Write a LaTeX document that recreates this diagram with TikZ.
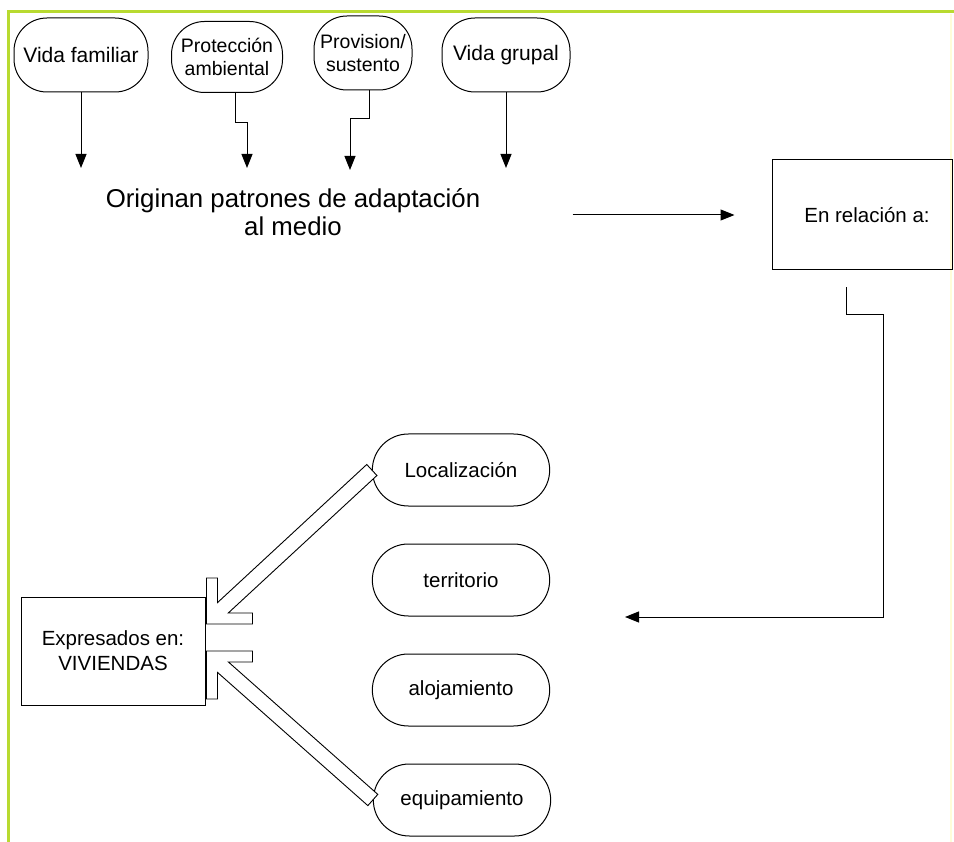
\documentclass[tikz,border=0pt]{standalone}
\usepackage{fontspec}
\setmainfont{Liberation Sans}
\usetikzlibrary{arrows.meta,calc,shapes.misc}
\definecolor{marco}{RGB}{184,218,48}

\begin{document}
\begin{tikzpicture}[x=1pt,y=-1pt,line width=1pt,
  burbuja/.style={draw, rounded corners=33pt, align=center, inner sep=2pt, font=\fontsize{21}{23.5}\selectfont},
  pastilla/.style={draw, rounded rectangle, minimum width=184pt, minimum height=72pt, font=\fontsize{20.5}{23}\selectfont},
  caja/.style={draw, rectangle, align=center, font=\fontsize{20.5}{25}\selectfont},
  flecha/.style={-{Triangle[width=11pt,length=14pt]}},
  bloque/.style={draw, fill=white, line width=0.9pt, line join=miter}]
\useasboundingbox (0,0) rectangle (954,842);
% marco
\draw[marco, line width=3pt] (8,842) -- (8,12) -- (954,12);
\draw[yellow!15, line width=2pt] (951,14) -- (951,842);

% fila de arriba
\node[burbuja, minimum width=134pt, minimum height=74pt] (vf) at (81,55) {Vida familiar};
\node[burbuja, minimum width=111pt, minimum height=71pt, font=\fontsize{19.5}{23}\selectfont] (pa) at (227,57) {Protección\\ambiental};
\node[burbuja, minimum width=98pt, minimum height=74pt, font=\fontsize{19.5}{23}\selectfont] (ps) at (363,53) {Provision/\\sustento};
\node[burbuja, minimum width=128pt, minimum height=74pt] (vg) at (506,55) {Vida grupal};

\node[font=\fontsize{25.8}{28}\selectfont, align=center] (orig) at (293,212) {Originan patrones de adaptación\\al medio};
\node[caja, minimum width=180pt, minimum height=110pt] (rel) at (862,215) {\hspace*{10pt}En relación a:};

\coordinate (t1) at (81,168);
\coordinate (t2) at (247,168);
\coordinate (t3) at (350,170);
\coordinate (t4) at (506,168);
\draw[flecha] (vf.south) -- (t1);
\draw[flecha] ([xshift=8pt]pa.south) -- ++(0,30) -| (t2);
\draw[flecha] ([xshift=6pt]ps.south) -- ++(0,28) -| (t3);
\draw[flecha] (vg.south) -- (t4);
\draw[flecha] ([xshift=-199pt]rel.west) -- ([xshift=-37pt]rel.west);

% abajo
\node[pastilla] (loc) at (461,470) {Localización};
\node[pastilla] (ter) at (461,580) {territorio};
\node[pastilla] (alo) at (461,690) {alojamiento};
\node[pastilla] (eq) at (462,800) {equipamiento};
\node[caja, minimum width=184pt, minimum height=108pt] (viv) at (113,651) {Expresados en:\\VIVIENDAS};

\coordinate (t5) at (625,617);
\draw[flecha] ([xshift=-16pt,yshift=-17pt]rel.south) -- ++(0,27) -- ++(37,0) |- (t5);

% flecha hueca de arriba
\coordinate (T1) at ($(viv.east)+(1,-27)$);
\coordinate (s1) at (loc.west);
\coordinate (h1) at ($(T1)+(14,-14)$);
\coordinate (a1) at ($(T1)+(11,0)$);
\coordinate (a2) at ($(T1)+(11,-46)$);
\coordinate (b1) at ($(T1)+(0,-11)$);
\coordinate (b2) at ($(T1)+(46,-11)$);
\coordinate (u1) at ($(s1)!7.5pt!-90:(h1)$);
\coordinate (u2) at ($(h1)!7.5pt!90:(s1)$);
\coordinate (l1) at ($(s1)!7.5pt!90:(h1)$);
\coordinate (l2) at ($(h1)!7.5pt!-90:(s1)$);
\draw[bloque] (T1) -- ++(0,-46) -- ++(11,0) -- (intersection of a1--a2 and u1--u2)
  -- (u1) -- (l1) -- (intersection of b1--b2 and l1--l2) -- (b2) -- ++(0,11) -- cycle;

% flecha hueca de abajo
\coordinate (T2) at ($(viv.east)+(1,0)$);
\coordinate (s2) at (eq.west);
\coordinate (h2) at ($(T2)+(14,14)$);
\coordinate (c1) at ($(T2)+(0,11)$);
\coordinate (c2) at ($(T2)+(46,11)$);
\coordinate (d1) at ($(T2)+(11,0)$);
\coordinate (d2) at ($(T2)+(11,48)$);
\coordinate (v1) at ($(s2)!7.5pt!-90:(h2)$);
\coordinate (v2) at ($(h2)!7.5pt!90:(s2)$);
\coordinate (w1) at ($(s2)!7.5pt!90:(h2)$);
\coordinate (w2) at ($(h2)!7.5pt!-90:(s2)$);
\draw[bloque] (T2) -- ++(46,0) -- ++(0,11) -- (intersection of c1--c2 and v1--v2)
  -- (v1) -- (w1) -- (intersection of d1--d2 and w1--w2) -- (d2) -- ++(-11,0) -- cycle;
\end{tikzpicture}
\end{document}
